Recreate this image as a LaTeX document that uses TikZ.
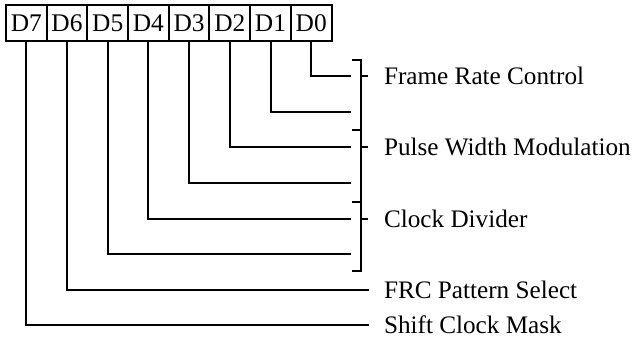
\documentclass[tikz,border=0pt]{standalone}
\usepackage{fontspec}
\setmainfont{Liberation Serif}
\begin{document}
\begin{tikzpicture}[x=0.5pt,y=-0.5pt,line width=1pt,
  bitbox/.style={draw,minimum width=20.35pt,minimum height=18pt,inner sep=0pt,font=\fontsize{12.7}{14}\selectfont},
  lbl/.style={anchor=west,inner sep=0pt,font=\fontsize{12.6}{14}\selectfont},
  wire/.style={line width=1pt}]
\useasboundingbox (0,0) rectangle (635,337);
% bit boxes
\foreach \i/\n in {0/D7,1/D6,2/D5,3/D4,4/D3,5/D2,6/D1,7/D0}{
  \node[bitbox] (\n) at ({26.3+40.7*\i},23.3) {\n};
}
% end points of wires
\coordinate (e0) at (351,76);
\coordinate (e1) at (351,112);
\coordinate (e2) at (351,147);
\coordinate (e3) at (351,183);
\coordinate (e4) at (351,219);
\coordinate (e5) at (351,254);
\coordinate (e6) at (369,290);
\coordinate (e7) at (369,325);
\draw[wire] (D0.south) |- (e0);
\draw[wire] (D1.south) |- (e1);
\draw[wire] (D2.south) |- (e2);
\draw[wire] (D3.south) |- (e3);
\draw[wire] (D4.south) |- (e4);
\draw[wire] (D5.south) |- (e5);
\draw[wire] (D6.south) |- (e6);
\draw[wire] (D7.south) |- (e7);
% brackets
\foreach \a/\b/\m in {60/130/76,130/202/147,202/271/219}{
  \draw[wire] (352,\a) -- (360.5,\a) -- (360.5,\b) -- (352,\b);
  \draw[wire] (360.5,\m) -- (368,\m);
}
% labels
\node[lbl] (l0) at (383,76) {Frame Rate Control};
\node[lbl] (l1) at (383,147) {Pulse Width Modulation};
\node[lbl] (l2) at (383,219) {Clock Divider};
\node[lbl] (l3) at (383,290) {FRC Pattern Select};
\node[lbl] (l4) at (383,325) {Shift Clock Mask};
\end{tikzpicture}
\end{document}
